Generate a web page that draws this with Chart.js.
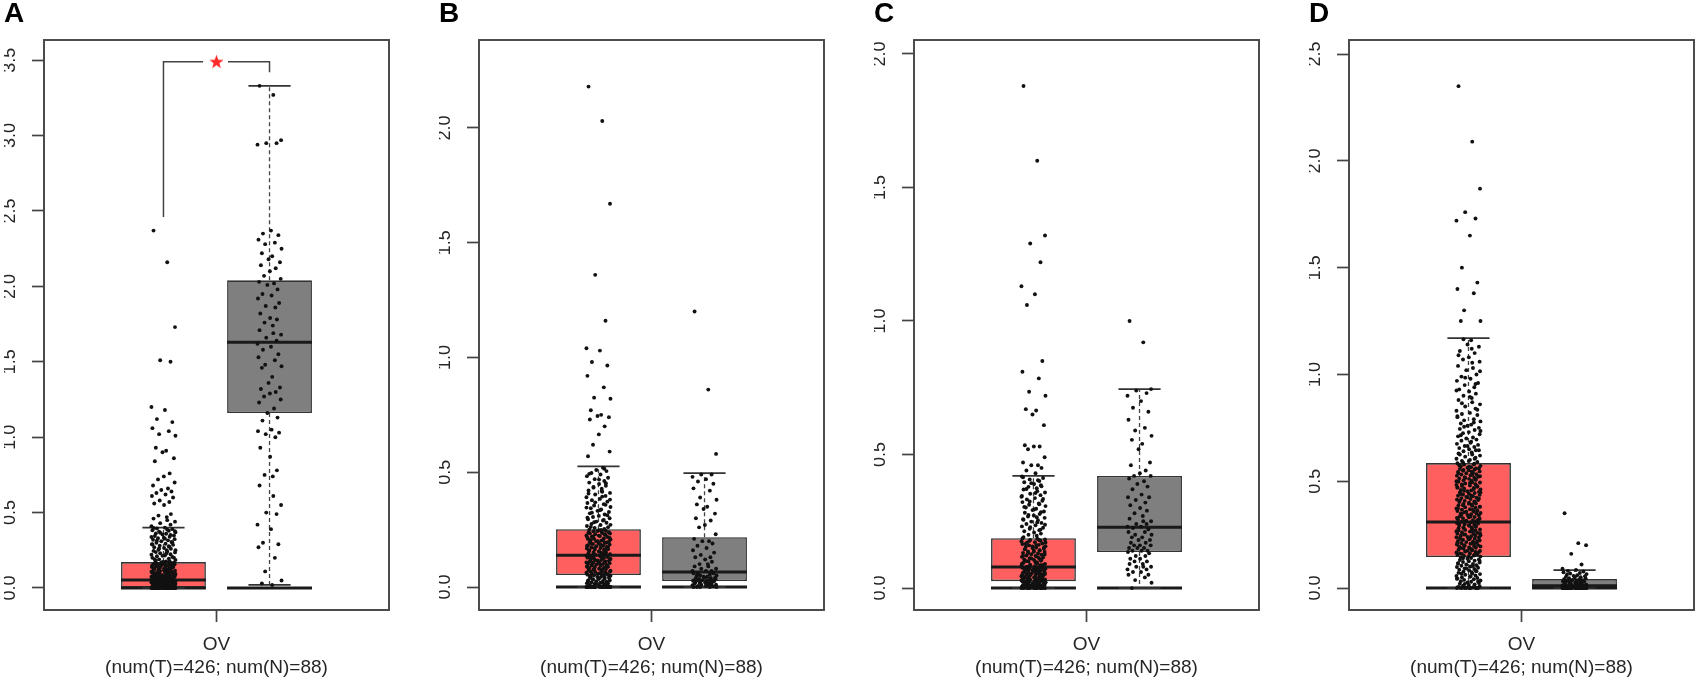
<!DOCTYPE html>
<html>
<head>
<meta charset="utf-8">
<script src="https://cdn.jsdelivr.net/npm/chart.js@4.4.1/dist/chart.umd.min.js"></script>
<style>
  body { margin: 0; background: #fff; width: 1698px; height: 696px; overflow: hidden; position: relative; }
  canvas { position: absolute; top: 0; }
</style>
</head>
<body>
<canvas id="panel0"></canvas>
<canvas id="panel1"></canvas>
<canvas id="panel2"></canvas>
<canvas id="panel3"></canvas>
<script>
// ---- data ----
const panelLetters = ['A', 'B', 'C', 'D'];
const categories = ['OV'];
const sampleLabel = '(num(T)=426; num(N)=88)';
const xTicks = [1];
const groupPos = [0.834, 1.166]; // tumor, normal

const yTicksA = [0, 0.5, 1, 1.5, 2, 2.5, 3, 3.5];
const yTicksB = [0, 0.5, 1, 1.5, 2];
const yTicksC = [0, 0.5, 1, 1.5, 2];
const yTicksD = [0, 0.5, 1, 1.5, 2, 2.5];
const yMin = [-0.146, -0.100, -0.082, -0.103];
const yMax = [3.634, 2.383, 2.052, 2.566];

// box statistics per panel
const tumorQ1  = [0, 0.052, 0.026, 0.145];
const tumorMed = [0.053, 0.139, 0.079, 0.309];
const tumorQ3  = [0.172, 0.252, 0.187, 0.585];
const tumorLo  = [0, 0, 0, 0];
const tumorHi  = [0.40, 0.526, 0.42, 1.17];
const normalQ1  = [1.16, 0.026, 0.135, 0];
const normalMed = [1.63, 0.065, 0.228, 0.01];
const normalQ3  = [2.04, 0.217, 0.42, 0.042];
const normalLo  = [0.02, 0, 0, 0];
const normalHi  = [3.33, 0.496, 0.745, 0.084];

// significance bracket in panel A: left foot, top, right foot; gap around the star
const sigY = [2.46, 3.49, 3.42];
const sigGap = [0.958, 1.036];

// jittered sample values
const tumorA = [2.37,2.16,1.73,1.51,1.50,1.20,1.18,1.12,1.10,1.06,1.04,1.02,1.01,0.93,0.91,0.90,0.86,0.84,0.76,0.74,0.72,0.70,0.68,0.66,0.65,0.64,0.63,0.62,0.61,0.60,0.58,0.57,0.56,0.55,0.49,0.48,0.47,0.46,0.45,0.44,0.43,0.42,0.41,
  0.40,0.395,0.39,0.383,0.38,0.374,0.37,0.362,0.36,0.355,0.348,0.345,0.34,0.333,0.33,0.324,0.32,0.316,0.31,0.305,0.30,0.293,0.29,0.286,0.28,0.274,0.27,0.265,0.26,0.254,0.25,0.246,0.24,0.236,0.23,0.224,0.22,0.215,0.21,0.206,0.20,0.195,0.19,0.186,0.18,0.176,
  0.171,0.168,0.166,0.163,0.161,0.158,0.157,0.154,0.151,0.149,0.147,0.144,0.142,0.139,0.137,0.135,0.132,0.13,0.128,0.126,0.123,0.121,0.119,0.117,0.114,0.112,0.11,0.108,0.106,0.103,0.101,0.099,0.097,0.095,0.093,0.09,0.088,0.086,0.084,0.082,0.08,0.078,0.076,0.074,0.072,0.07,0.068,0.066,0.064,0.063,0.061,0.059,0.057,0.056,0.054,
  0.052,0.05,0.049,0.047,0.046,0.044,0.043,0.041,0.04,0.038,0.037,0.035,0.034,0.032,0.031,0.029,0.028,0.027,0.025,0.024,0.022,0.021,0.02,0.018,0.017,0.016,0.014,0.013,0.012,0.011,0.009,0.008,0.007,0.006,0.005,0.004,0.003,0.002,0.001,0.001,
  0,0,0,0,0,0,0,0,0,0,0,0,0,0,0,0,0,0,0,0,0,0,0,0,0,
  0.169,0.165,0.159,0.153,0.146,0.141,0.134,0.129,0.124,0.118,0.113,0.107,0.102,0.096,0.091,0.087,0.083,0.079,0.075,0.071,0.067,0.062,0.058,0.055,0.051,0.048,0.045,0.042,0.039,0.036,0.033,0.03,0.026,0.023,0.019,0.015,0.012,0.01,0.007,0.005,0.003,0.002,0.001,0,0,0,0,0,0,0,
  0.398,0.387,0.377,0.366,0.352,0.338,0.327,0.313,0.302,0.288,0.277,0.262,0.251,0.238,0.227,0.213,0.201,0.189,0.178,0.173];
const normalA = [3.33,3.27,2.97,2.95,2.95,2.94,2.37,2.35,2.34,2.31,2.29,2.28,2.25,2.22,2.20,2.18,2.16,2.14,2.12,2.10,2.07,2.05,
  2.03,2.02,2.01,1.98,1.95,1.94,1.92,1.89,1.87,1.86,1.82,1.79,1.78,1.76,1.74,1.71,1.69,1.68,1.66,1.64,
  1.62,1.60,1.58,1.55,1.53,1.51,1.48,1.47,1.46,1.40,1.36,1.33,1.32,1.30,1.29,1.27,1.25,1.23,1.19,1.16,
  1.13,1.11,1.05,1.04,1.03,1.02,1.00,0.93,0.87,0.78,0.75,0.74,0.68,0.61,0.55,0.50,0.49,0.42,0.39,0.30,0.29,0.27,0.20,0.11,0.05,0.03,0.02];

const tumorB = [2.18,2.03,1.67,1.36,1.16,1.04,1.03,0.98,0.965,0.92,0.87,0.825,0.82,0.77,0.75,0.745,0.74,0.73,0.70,0.665,0.62,0.59,0.57,
  0.52,0.51,0.505,0.497,0.49,0.483,0.476,0.47,0.462,0.455,0.449,0.441,0.436,0.428,0.421,0.415,0.41,0.403,0.397,0.391,0.384,0.378,0.372,0.366,0.361,0.355,0.349,0.343,0.338,0.332,0.327,0.321,0.316,0.31,0.305,0.30,0.295,0.29,0.285,0.28,0.275,0.27,0.266,0.261,0.257,0.253,
  0.25,0.248,0.245,0.243,0.24,0.238,0.235,0.233,0.23,0.228,0.225,0.222,0.22,0.218,0.215,0.212,0.21,0.207,0.205,0.202,0.2,0.198,0.195,0.192,0.19,0.188,0.185,0.182,0.18,0.178,0.175,0.172,0.17,0.168,0.165,0.163,0.16,0.158,0.156,0.153,0.151,0.149,0.147,0.145,0.143,0.141,0.14,
  0.137,0.135,0.133,0.131,0.128,0.126,0.124,0.122,0.12,0.118,0.116,0.114,0.112,0.11,0.108,0.106,0.104,0.102,0.1,0.098,0.096,0.094,0.092,0.09,0.088,0.086,0.084,0.082,0.08,0.078,0.076,0.074,0.072,0.07,0.068,0.066,0.064,0.062,0.06,0.058,0.056,0.054,0.053,
  0.051,0.049,0.047,0.045,0.043,0.041,0.039,0.037,0.035,0.033,0.031,0.029,0.027,0.025,0.023,0.021,0.019,0.017,0.015,0.013,0.011,0.009,0.007,0.005,0.003,0.001,
  0,0,0,0,0,0,0,0,0,0,0,0,0,0,
  0.249,0.244,0.239,0.234,0.229,0.224,0.219,0.214,0.209,0.204,0.199,0.194,0.189,0.184,0.179,0.174,0.169,0.164,0.159,0.154,0.148,0.142,0.138,0.132,0.127,0.121,0.117,0.111,0.107,0.101,0.097,0.091,0.087,0.081,0.077,0.071,0.067,0.061,0.057,0.052,0.048,0.044,0.038,0.034,0.028,0.024,0.018,0.014,0.008,0.004,0.002,0,0,0,
  0.515,0.493,0.468,0.452,0.433,0.418,0.407,0.394,0.381,0.369,0.358,0.346,0.335,0.324,0.313,0.302,0.292,0.282,0.271,0.262];
const normalB = [1.20,0.86,0.58,0.49,0.49,0.48,0.47,0.46,0.45,0.43,0.42,0.39,0.38,0.36,0.35,0.34,0.32,0.30,0.29,0.27,0.26,0.23,
  0.21,0.20,0.20,0.19,0.18,0.17,0.16,0.15,0.14,0.13,0.13,0.12,0.11,0.10,0.10,0.09,0.09,0.08,0.08,0.07,0.07,0.07,
  0.06,0.06,0.06,0.055,0.05,0.05,0.05,0.045,0.045,0.04,0.04,0.04,0.04,0.035,0.035,0.03,0.03,0.03,0.03,0.03,0.027,0.027,
  0.025,0.025,0.02,0.02,0.02,0.02,0.018,0.015,0.015,0.012,0.01,0.01,0.01,0.008,0.005,0.005,0.003,0,0,0,0,0];

const tumorC = [1.88,1.60,1.32,1.29,1.22,1.13,1.10,1.06,0.85,0.81,0.785,0.735,0.72,0.67,0.665,0.65,0.61,0.535,0.53,0.53,0.52,0.49,0.47,0.46,0.46,0.45,0.44,0.43,
  0.418,0.412,0.407,0.401,0.396,0.39,0.385,0.379,0.374,0.369,0.363,0.358,0.353,0.348,0.342,0.337,0.332,0.327,0.322,0.317,0.312,0.307,0.302,0.297,0.292,0.287,0.282,0.277,0.272,0.268,0.263,0.258,0.254,0.249,0.244,0.24,0.235,0.231,0.226,0.222,0.217,0.213,0.208,0.204,0.2,0.196,0.191,
  0.185,0.182,0.18,0.177,0.175,0.172,0.17,0.167,0.165,0.162,0.16,0.157,0.155,0.152,0.15,0.147,0.145,0.142,0.14,0.137,0.135,0.132,0.13,0.127,0.125,0.122,0.12,0.117,0.115,0.112,0.11,0.107,0.105,0.102,0.1,0.097,0.095,0.092,0.09,0.088,0.086,0.084,0.082,0.08,
  0.078,0.076,0.075,0.073,0.072,0.07,0.069,0.067,0.066,0.064,0.063,0.061,0.06,0.058,0.057,0.055,0.054,0.052,0.051,0.049,0.048,0.046,0.045,0.043,0.042,0.04,0.039,0.037,0.036,0.034,0.033,0.032,0.031,0.03,0.029,0.028,0.027,0.026,
  0.025,0.024,0.023,0.022,0.021,0.02,0.019,0.018,0.017,0.016,0.015,0.014,0.013,0.012,0.011,0.01,0.009,0.008,0.007,0.006,0.005,0.004,0.003,0.002,0.001,
  0,0,0,0,0,0,0,0,0,0,0,0,
  0.186,0.181,0.176,0.171,0.166,0.161,0.156,0.151,0.146,0.141,0.136,0.131,0.126,0.121,0.116,0.111,0.106,0.101,0.096,0.091,0.087,0.083,0.079,0.074,0.071,0.068,0.065,0.062,0.059,0.056,0.053,0.05,0.047,0.044,0.041,0.038,0.035,0.031,0.027,0.024,0.021,0.018,0.014,0.011,0.007,0.004,0.002,0,0,0,
  0.415,0.404,0.393,0.381,0.371,0.356,0.345,0.334,0.324,0.314,0.304,0.294,0.284,0.274,0.265,0.256,0.246,0.237,0.228,0.219];
const normalC = [1.00,0.92,0.745,0.74,0.73,0.72,0.70,0.675,0.66,0.63,0.60,0.59,0.57,0.555,0.54,0.52,0.47,0.46,0.44,0.43,0.42,0.42,
  0.41,0.40,0.39,0.38,0.37,0.35,0.34,0.34,0.33,0.32,0.31,0.30,0.29,0.28,0.27,0.26,0.25,0.25,0.24,0.24,0.23,0.23,
  0.225,0.22,0.21,0.21,0.20,0.20,0.19,0.19,0.18,0.18,0.17,0.17,0.16,0.16,0.16,0.15,0.15,0.15,0.14,0.14,0.14,0.135,
  0.13,0.12,0.12,0.11,0.11,0.10,0.10,0.09,0.09,0.08,0.08,0.08,0.07,0.07,0.06,0.06,0.05,0.05,0.04,0.03,0.02,0];

const tumorD = [2.35,2.09,1.87,1.76,1.73,1.72,1.65,1.50,1.43,1.40,1.38,1.30,1.25,1.25,
  1.16,1.14,1.13,1.11,1.1,1.08,1.07,1.06,1.04,1.03,1.02,1.0,0.99,0.98,0.97,0.96,0.95,0.94,0.93,0.92,0.91,0.9,0.89,0.88,0.87,0.86,0.85,0.84,0.83,0.82,0.815,0.81,0.8,0.79,0.785,0.78,0.77,0.765,0.76,0.75,0.745,0.74,0.73,0.725,0.72,0.71,0.705,0.7,0.695,0.69,0.68,0.675,0.67,0.665,0.66,0.655,0.65,0.645,0.64,0.635,0.63,0.625,0.62,0.615,0.61,0.605,0.6,0.595,0.59,
  0.584,0.579,0.578,0.572,0.57,0.566,0.563,0.561,0.557,0.555,0.551,0.549,0.546,0.543,0.54,0.537,0.533,0.531,0.528,0.526,0.521,0.519,0.516,0.513,0.511,0.507,0.504,0.502,0.498,0.495,0.494,0.489,0.486,0.483,0.48,0.478,0.474,0.471,0.468,0.466,0.462,0.459,0.457,0.453,0.45,0.447,0.445,0.441,0.438,0.436,0.432,0.43,0.426,0.423,0.421,0.417,0.414,0.412,0.408,0.405,0.403,0.399,0.396,0.394,0.39,0.387,0.385,0.381,0.378,0.376,0.372,0.369,0.367,0.363,0.36,0.358,0.354,0.351,0.349,0.345,0.342,0.34,0.336,0.333,0.331,0.327,0.324,0.322,0.318,0.315,0.313,0.31,
  0.307,0.304,0.302,0.299,0.296,0.293,0.291,0.288,0.285,0.283,0.28,0.277,0.274,0.272,0.269,0.266,0.264,0.261,0.258,0.255,0.253,0.25,0.247,0.245,0.242,0.239,0.236,0.234,0.231,0.228,0.226,0.223,0.22,0.217,0.215,0.212,0.209,0.207,0.204,0.201,0.198,0.196,0.193,0.19,0.188,0.185,0.182,0.179,0.177,0.174,0.171,0.169,0.166,0.163,0.16,0.158,0.155,0.152,0.15,0.147,
  0.143,0.14,0.137,0.134,0.131,0.128,0.125,0.122,0.119,0.116,0.113,0.11,0.107,0.104,0.101,0.098,0.095,0.092,0.089,0.086,0.083,0.08,0.077,0.074,0.071,0.068,0.065,0.062,0.059,0.056,0.053,0.05,0.047,0.044,0.041,0.038,0.035,0.032,0.029,0.026,0.023,0.02,0.017,0.014,0.011,0.008,0.005,0.003,0.001,
  0,0,0,0,0,0,
  0.582,0.575,0.568,0.56,0.553,0.545,0.538,0.53,0.523,0.515,0.508,0.5,0.492,0.485,0.477,0.47,0.463,0.455,0.448,0.44,0.433,0.425,0.418,0.41,0.402,0.395,0.388,0.38,0.373,0.365,0.357,0.35,0.343,0.335,0.328,0.32,0.312,0.306,0.3,0.294,0.287,0.281,0.276,0.27,0.263,0.257,0.251,0.244,0.238,0.232,0.225,0.219,0.213,0.206,0.2,0.194,0.187,0.181,0.175,0.168,0.162,0.156,0.149,0.139,0.127,0.115,0.103,0.091,0.079,0.067,0.055,0.043,0.031,0.019,0.009,0.002,0,0,
  1.165,1.12,1.09,1.055,1.015,0.985,0.955,0.925,0.895,0.865,0.835,0.805,0.775,0.755,0.735,0.715,0.685,0.665,0.645,0.625,0.605,0.595,0.588];
const normalD = [0.35,0.21,0.20,0.16,0.11,0.09,
  0.084,0.08,0.077,0.074,0.07,0.068,0.065,0.062,0.06,0.057,0.055,0.052,0.05,0.048,0.046,0.044,
  0.041,0.04,0.038,0.037,0.035,0.034,0.032,0.031,0.03,0.028,0.027,0.025,0.024,0.022,0.021,0.02,0.018,0.017,0.015,0.014,0.012,0.011,
  0.01,0.009,0.009,0.008,0.008,0.007,0.007,0.006,0.006,0.005,0.005,0.004,0.004,0.003,0.003,0.002,0.002,0.001,0.001,
  0,0,0,0,0,0,0,0,0,0,0,0,0,0,0,0,0,0,0,0,0,0,0,0,0];

// horizontal jitter pattern (fraction of the jitter half-width)
const jitter = [-0.82,0.31,0.95,-0.27,0.58,-0.99,0.12,-0.54,0.73,-0.91,0.44,-0.36,0.99,-0.63,0.22,-0.08,0.86,-0.71,0.51,0.03,-0.45,0.92,-0.86,0.37,-0.18,0.66,-0.58,0.17,-0.95,0.79,-0.31,0.48,-0.76,0.05,0.61,-0.41,0.27];

const tumorSamples = [tumorA, tumorB, tumorC, tumorD];
const normalSamples = [normalA, normalB, normalC, normalD];
const yTickSets = [yTicksA, yTicksB, yTicksC, yTicksD];

// ---- style ----
const fontFamily = "'Liberation Sans', Arial, Helvetica, sans-serif";
const textColor = '#262626';
const axisColor = '#444';
const tumorColor = '#ff5f5f';
const normalColor = '#7f7f7f';
const xRange = [0.46, 1.54];
const boxHalf = 0.133;
const capHalf = 0.066;
const jitterHalf = 0.038;
const pointSize = 1.95;
const canvasLeft = [0, 435, 870, 1305];
const canvasWidth = [435, 435, 435, 393];

function makeStar(size, color) {
    const c = document.createElement('canvas');
    c.width = c.height = size;
    const g = c.getContext('2d');
    g.fillStyle = color;
    g.beginPath();
    for (let i = 0; i < 10; i++) {
        const r = i % 2 ? size * 0.2 : size * 0.5;
        const a = -Math.PI / 2 + i * Math.PI / 5;
        g.lineTo(size / 2 + r * Math.cos(a), size / 2 + r * Math.sin(a) + 0.5);
    }
    g.closePath();
    g.fill();
    return c;
}

// рамка вокруг области графика
const framePlugin = {
    id: 'frame',
    beforeDatasetsDraw(chart) {
        const { ctx, chartArea: a } = chart;
        ctx.save();
        ctx.strokeStyle = axisColor;
        ctx.lineWidth = 1.9;
        ctx.strokeRect(a.left, a.top, a.width, a.height);
        ctx.restore();
    }
};

function segment(list, x1, x2, y) {
    list.push({ x: x1, y: y }, { x: x2, y: y }, { x: x2, y: null });
}
function vertical(list, x, y1, y2) {
    list.push({ x: x, y: y1 }, { x: x, y: y2 }, { x: x, y: null });
}

function buildPanel(p) {
    const stats = [
        [tumorQ1[p], tumorMed[p], tumorQ3[p], tumorLo[p], tumorHi[p]],
        [normalQ1[p], normalMed[p], normalQ3[p], normalLo[p], normalHi[p]]
    ];
    const medians = [], caps = [], whiskers = [], zeros = [];
    stats.forEach((s, g) => {
        const c = groupPos[g];
        segment(medians, c - boxHalf, c + boxHalf, s[1]);
        vertical(whiskers, c, s[2], s[4]);
        vertical(whiskers, c, s[0], s[3]);
        segment(caps, c - capHalf, c + capHalf, s[4]);
        segment(caps, c - capHalf, c + capHalf, s[3]);
        segment(zeros, c - boxHalf, c + boxHalf, 0);
    });

    const pts = (values, g) => values.map((v, i) => ({ x: groupPos[g] + jitter[i % jitter.length] * jitterHalf, y: v }));
    const lineDs = (data, width, dash, color) => ({
        type: 'line', data: data, borderColor: color, borderWidth: width, borderDash: dash,
        pointRadius: 0, fill: false, tension: 0, spanGaps: false, order: 1
    });

    const datasets = [
        {
            type: 'scatter', data: pts(tumorSamples[p], 0), pointRadius: pointSize,
            backgroundColor: '#111', borderWidth: 0, order: 0
        },
        {
            type: 'scatter', data: pts(normalSamples[p], 1), pointRadius: pointSize,
            backgroundColor: '#111', borderWidth: 0, order: 0
        },
        lineDs(medians, 3, [], '#1a1a1a'),
        lineDs(caps, 1.7, [], '#333'),
        lineDs(whiskers, 1.3, [4, 3], '#444'),
        lineDs(zeros, 3, [], '#1a1a1a'),
        {
            type: 'bar',
            data: stats.map((s, g) => ({ x: groupPos[g], y: [s[0], s[2]] })),
            backgroundColor: [tumorColor, normalColor],
            borderColor: '#333', borderWidth: 1.6, borderSkipped: false,
            barPercentage: 1, categoryPercentage: 0.8, order: 2
        }
    ];

    if (p === 0) {
        const bracket = [];
        bracket.push({ x: groupPos[0], y: sigY[0] }, { x: groupPos[0], y: sigY[1] }, { x: sigGap[0], y: sigY[1] },
            { x: xTicks[0], y: null },
            { x: sigGap[1], y: sigY[1] }, { x: groupPos[1], y: sigY[1] }, { x: groupPos[1], y: sigY[2] });
        datasets.push(lineDs(bracket, 1.5, [], '#444'));
        datasets.push({
            type: 'scatter', data: [{ x: xTicks[0], y: sigY[1] }],
            pointStyle: makeStar(15, '#ff2a2a'), pointRadius: 7, order: 0
        });
    }

    const canvas = document.getElementById('panel' + p);
    canvas.width = canvasWidth[p];
    canvas.height = 696;
    canvas.style.left = canvasLeft[p] + 'px';

    new Chart(canvas.getContext('2d'), {
        type: 'scatter',
        data: { datasets: datasets },
        options: {
            responsive: false,
            animation: false,
            devicePixelRatio: 1,
            layout: { padding: { left: 4, right: canvasWidth[p] - 389, top: 0, bottom: 0 } },
            plugins: {
                legend: { display: false },
                tooltip: { enabled: false },
                title: {
                    display: true, text: panelLetters[p], align: 'start', color: '#000',
                    font: { family: fontFamily, size: 28, weight: 'bold', lineHeight: 1 },
                    padding: { top: 0, bottom: 12 }
                }
            },
            scales: {
                x: {
                    type: 'linear', min: xRange[0], max: xRange[1], offset: false,
                    grid: { drawOnChartArea: false, tickLength: 12, tickColor: axisColor, tickWidth: 1.7, offset: false },
                    border: { display: false },
                    afterBuildTicks: s => { s.ticks = xTicks.map(v => ({ value: v })); },
                    afterFit: s => { s.height = 86; },
                    ticks: {
                        autoSkip: false, maxRotation: 0, padding: 11.6, color: textColor,
                        font: { family: fontFamily, size: 19 },
                        callback: (v, i) => [categories[i], sampleLabel]
                    }
                },
                y: {
                    type: 'linear', min: yMin[p], max: yMax[p],
                    grid: { drawOnChartArea: false, tickLength: 12, tickColor: axisColor, tickWidth: 1.7 },
                    border: { display: false },
                    afterBuildTicks: s => { s.ticks = yTickSets[p].map(v => ({ value: v })); },
                    afterFit: s => { s.width = 40; },
                    ticks: {
                        minRotation: 90, maxRotation: 90, crossAlign: 'center', padding: 9,
                        color: textColor, font: { family: fontFamily, size: 18 },
                        callback: v => v.toFixed(1)
                    }
                }
            }
        },
        plugins: [framePlugin]
    });
}

window.onload = () => {
    for (let p = 0; p < 4; p++) buildPanel(p);
};
</script>
</body>
</html>
